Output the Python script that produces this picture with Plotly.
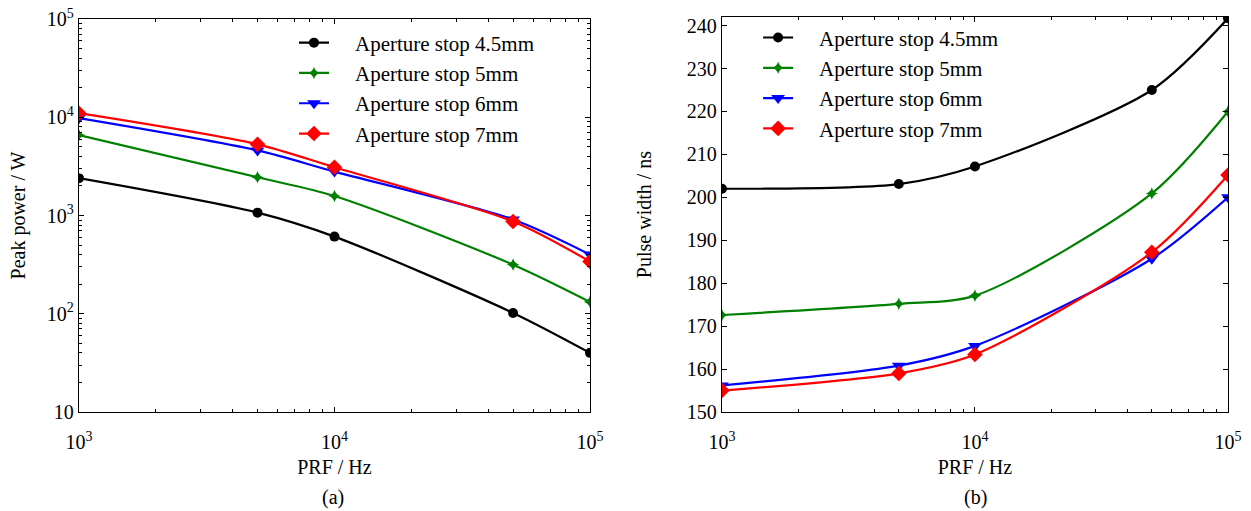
import plotly.graph_objects as go

prf = [1e3, 5e3, 1e4, 5e4, 1e5]
names = ["Aperture stop 4.5mm", "Aperture stop 5mm", "Aperture stop 6mm", "Aperture stop 7mm"]
peak_45 = [2400, 1070, 610, 102, 40]
peak_5 = [6600, 2450, 1580, 316, 132]
peak_6 = [9800, 4600, 2800, 910, 400]
peak_7 = [11000, 5300, 3100, 870, 340]
pw_45 = [202, 203.1, 207.2, 225, 241.7]
pw_5 = [172.6, 175.2, 177.1, 200.9, 220]
pw_6 = [156.2, 160.8, 165.4, 185.7, 200]
pw_7 = [155, 159, 163.4, 187.2, 205.2]

colors = ["black", "#008000", "#0000ff", "#ff0000"]
symbols = ["circle", "star-diamond", "triangle-down", "diamond"]
msizes = [10, 9, 12, 12]

FONT = "Liberation Serif"
FS = 20
LFS = 21
PAD = "\u00a0\u00a0\u00a0\u00a0"
fig = go.Figure()

for i, ys in enumerate([peak_45, peak_5, peak_6, peak_7]):
    fig.add_trace(go.Scatter(x=prf, y=ys, name=PAD + names[i], mode="lines+markers",
                             line=dict(color=colors[i], width=2.2, shape="spline", smoothing=0.8),
                             marker=dict(symbol=symbols[i], size=msizes[i], color=colors[i]),
                             xaxis="x", yaxis="y", legend="legend"))
for i, ys in enumerate([pw_45, pw_5, pw_6, pw_7]):
    fig.add_trace(go.Scatter(x=prf, y=ys, name=PAD + names[i], mode="lines+markers",
                             line=dict(color=colors[i], width=2.2, shape="spline", smoothing=0.8),
                             marker=dict(symbol=symbols[i], size=msizes[i], color=colors[i]),
                             xaxis="x2", yaxis="y2", legend="legend2"))

minor_x = [2e3, 3e3, 4e3, 5e3, 6e3, 7e3, 8e3, 9e3, 2e4, 3e4, 4e4, 5e4, 6e4, 7e4, 8e4, 9e4]
minor_y = [m * 10 ** d for d in range(1, 5) for m in range(2, 10)]

common_axis = dict(showline=True, linecolor="black", linewidth=1.2, mirror="allticks",
                   ticks="inside", ticklen=5, tickcolor="black", showgrid=False, zeroline=False,
                   automargin=False,
                   tickfont=dict(family=FONT, size=FS, color="black"))

xt = dict(type="log", range=[3, 5], tickvals=[1e3, 1e4, 1e5],
          ticktext=["10<sup>3</sup>", "10<sup>4</sup>", "10<sup>5</sup>"],
          minor=dict(tickvals=minor_x, ticks="inside", ticklen=3, tickcolor="black", showgrid=False),
          ticklabelstandoff=12,
          title=dict(text="PRF / Hz", font=dict(family=FONT, size=FS, color="black"), standoff=7),
          **common_axis)

fig.update_layout(
    width=1251, height=511, paper_bgcolor="white", plot_bgcolor="white",
    margin=dict(l=0, r=0, t=0, b=0),
    font=dict(family=FONT, color="black"),
    xaxis=dict(domain=[0.0631, 0.4716], anchor="y", **xt),
    yaxis=dict(domain=[0.1937, 0.9628], anchor="x", type="log", range=[1, 5],
               tickvals=[10, 100, 1000, 1e4, 1e5],
               ticktext=["10", "10<sup>2</sup>", "10<sup>3</sup>", "10<sup>4</sup>", "10<sup>5</sup>"],
               minor=dict(tickvals=minor_y, ticks="inside", ticklen=3, tickcolor="black", showgrid=False),
               title=dict(text="Peak power / W", font=dict(family=FONT, size=FS, color="black"), standoff=15),
               **common_axis),
    xaxis2=dict(domain=[0.5771, 0.9816], anchor="y2", **xt),
    yaxis2=dict(domain=[0.1937, 0.9667], anchor="x2", range=[150, 242], tickvals=list(range(150, 241, 10)),
                title=dict(text="Pulse width / ns", font=dict(family=FONT, size=FS, color="black"), standoff=29),
                **common_axis),
    legend=dict(x=0.235, y=0.956, xanchor="left", yanchor="top", bgcolor="rgba(0,0,0,0)",
                font=dict(family=FONT, size=LFS, color="black"), tracegroupgap=0),
    legend2=dict(x=0.606, y=0.966, xanchor="left", yanchor="top", bgcolor="rgba(0,0,0,0)",
                 font=dict(family=FONT, size=LFS, color="black"), tracegroupgap=0),
    annotations=[
        dict(text="(a)", x=0.266, y=0.0, xref="paper", yref="paper", xanchor="center", yanchor="bottom",
             showarrow=False, font=dict(family=FONT, size=FS, color="black")),
        dict(text="(b)", x=0.78, y=0.0, xref="paper", yref="paper", xanchor="center", yanchor="bottom",
             showarrow=False, font=dict(family=FONT, size=FS, color="black")),
    ],
)

fig.write_html("out.html", config={"displayModeBar": False},
               post_script="document.body.style.margin='0';")
